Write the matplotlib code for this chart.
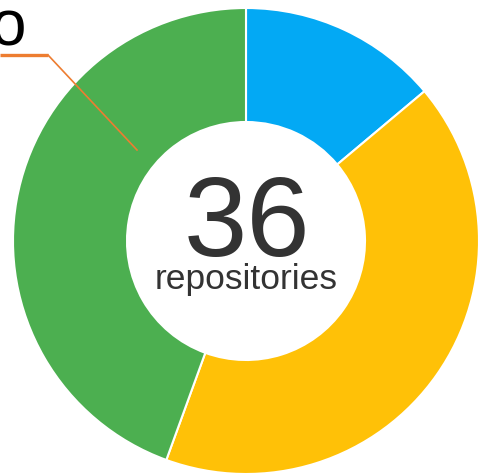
import matplotlib
matplotlib.use("Agg")
import matplotlib.pyplot as plt

# Data
categories = ["Blue", "Yellow", "Green"]
values = [5, 15, 16]
colors = ["#03A9F4", "#FFC107", "#4CAF50"]
total_label = "36"
sub_label = "repositories"
callout_text = "o"

W, H = 478, 475
fig = plt.figure(figsize=(W / 100, H / 100), dpi=100)
ax = fig.add_axes([0, 0, 1, 1])

cx, cy = 246, H - 241
R, r = 233, 119
ax.pie(values, colors=colors, center=(cx, cy), radius=R, startangle=90,
       counterclock=False,
       wedgeprops=dict(width=R - r, edgecolor="white", linewidth=1.5))
ax.set_xlim(0, W)
ax.set_ylim(0, H)
ax.set_aspect("equal")
ax.axis("off")

font = "Liberation Sans"
ax.text(cx + 1, H - 256, total_label, ha="center", va="baseline",
        fontsize=82, color="#333333", family=font)
ax.text(cx, H - 289, sub_label, ha="center", va="baseline",
        fontsize=25.5, color="#333333", family=font)

# Callout
orange = "#ED7D31"
ax.plot([0, 48], [H - 55, H - 55], color=orange, lw=2.4, solid_capstyle="butt")
ax.plot([48, 137], [H - 55, H - 150], color=orange, lw=1.2)
ax.text(26, H - 45, callout_text, ha="right", va="baseline",
        fontsize=46, color="black", family=font)

fig.savefig("out.png", dpi=100)
